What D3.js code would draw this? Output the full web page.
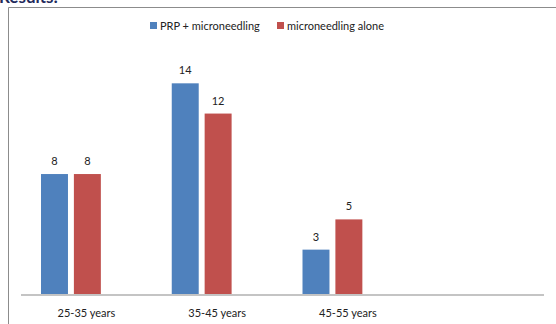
<!DOCTYPE html>
<html><head><meta charset="utf-8">
<script src="https://cdn.jsdelivr.net/npm/d3@7"></script>
<style>body{margin:0;background:#fff}svg{display:block}</style>
</head><body>
<svg id="c" width="556" height="324"></svg>
<script>
const categories = ["25-35 years", "35-45 years", "45-55 years", ""];
const seriesNames = ["PRP + microneedling", "microneedling alone", ""];
const prpValues = [8, 14, 3, null];
const aloneValues = [8, 12, 5, null];
const colors = ["#4F81BD", "#C0504D", "none"];
const series = [prpValues, aloneValues, [null, null, null, null]];

const svg = d3.select("#c");
const font = "Lato, 'Open Sans', sans-serif";

// partial heading at the very top (cut off in the reference too)
svg.append("text").attr("x", -1).attr("y", 2.5).attr("fill", "#1F2A5C")
  .attr("font-family", font).attr("font-weight", "bold").attr("font-size", 17).text("Results:");

// chart frame
svg.append("path").attr("d", "M8.5,324 V7.5 H556").attr("fill", "none").attr("stroke", "#8c8c8c").attr("stroke-width", 1);

const x0 = d3.scaleBand().domain(d3.range(categories.length)).range([21, 544]);
const x1 = d3.scaleBand().domain(d3.range(series.length)).range([20, 130.75 - 18]).paddingInner(0.18);
const y = d3.scaleLinear().domain([0, 16]).range([295, 295 - 16 * 15.12]);

series.forEach((vals, s) => {
  const g = svg.append("g");
  vals.forEach((v, i) => {
    if (v == null) return;
    const bx = x0(i) + x1(s);
    g.append("rect").attr("x", bx).attr("y", y(v)).attr("width", x1.bandwidth()).attr("height", y(0) - y(v))
      .attr("fill", colors[s]);
    g.append("text").attr("x", bx + x1.bandwidth() / 2).attr("y", y(v) - 9)
      .attr("text-anchor", "middle").attr("font-family", font).attr("font-size", 11).attr("fill", "#222").text(v);
  });
});

// axis line
svg.append("line").attr("x1", 21).attr("x2", 544).attr("y1", 295).attr("y2", 295)
  .attr("stroke", "#c4c4c4").attr("stroke-width", 2);

// category labels
categories.forEach((c, i) => {
  svg.append("text").attr("x", x0(i) + x0.bandwidth() / 2).attr("y", 317)
    .attr("text-anchor", "middle").attr("font-family", font).attr("font-size", 11).attr("fill", "#222").text(c);
});

// legend
const legendX = [150, 277];
[0, 1].forEach(s => {
  svg.append("rect").attr("x", legendX[s]).attr("y", 22).attr("width", 7).attr("height", 7).attr("fill", colors[s]);
  svg.append("text").attr("x", legendX[s] + 10).attr("y", 29.5).attr("font-family", font).attr("font-size", 11)
    .attr("fill", "#222").text(seriesNames[s]);
});
</script>
</body></html>
